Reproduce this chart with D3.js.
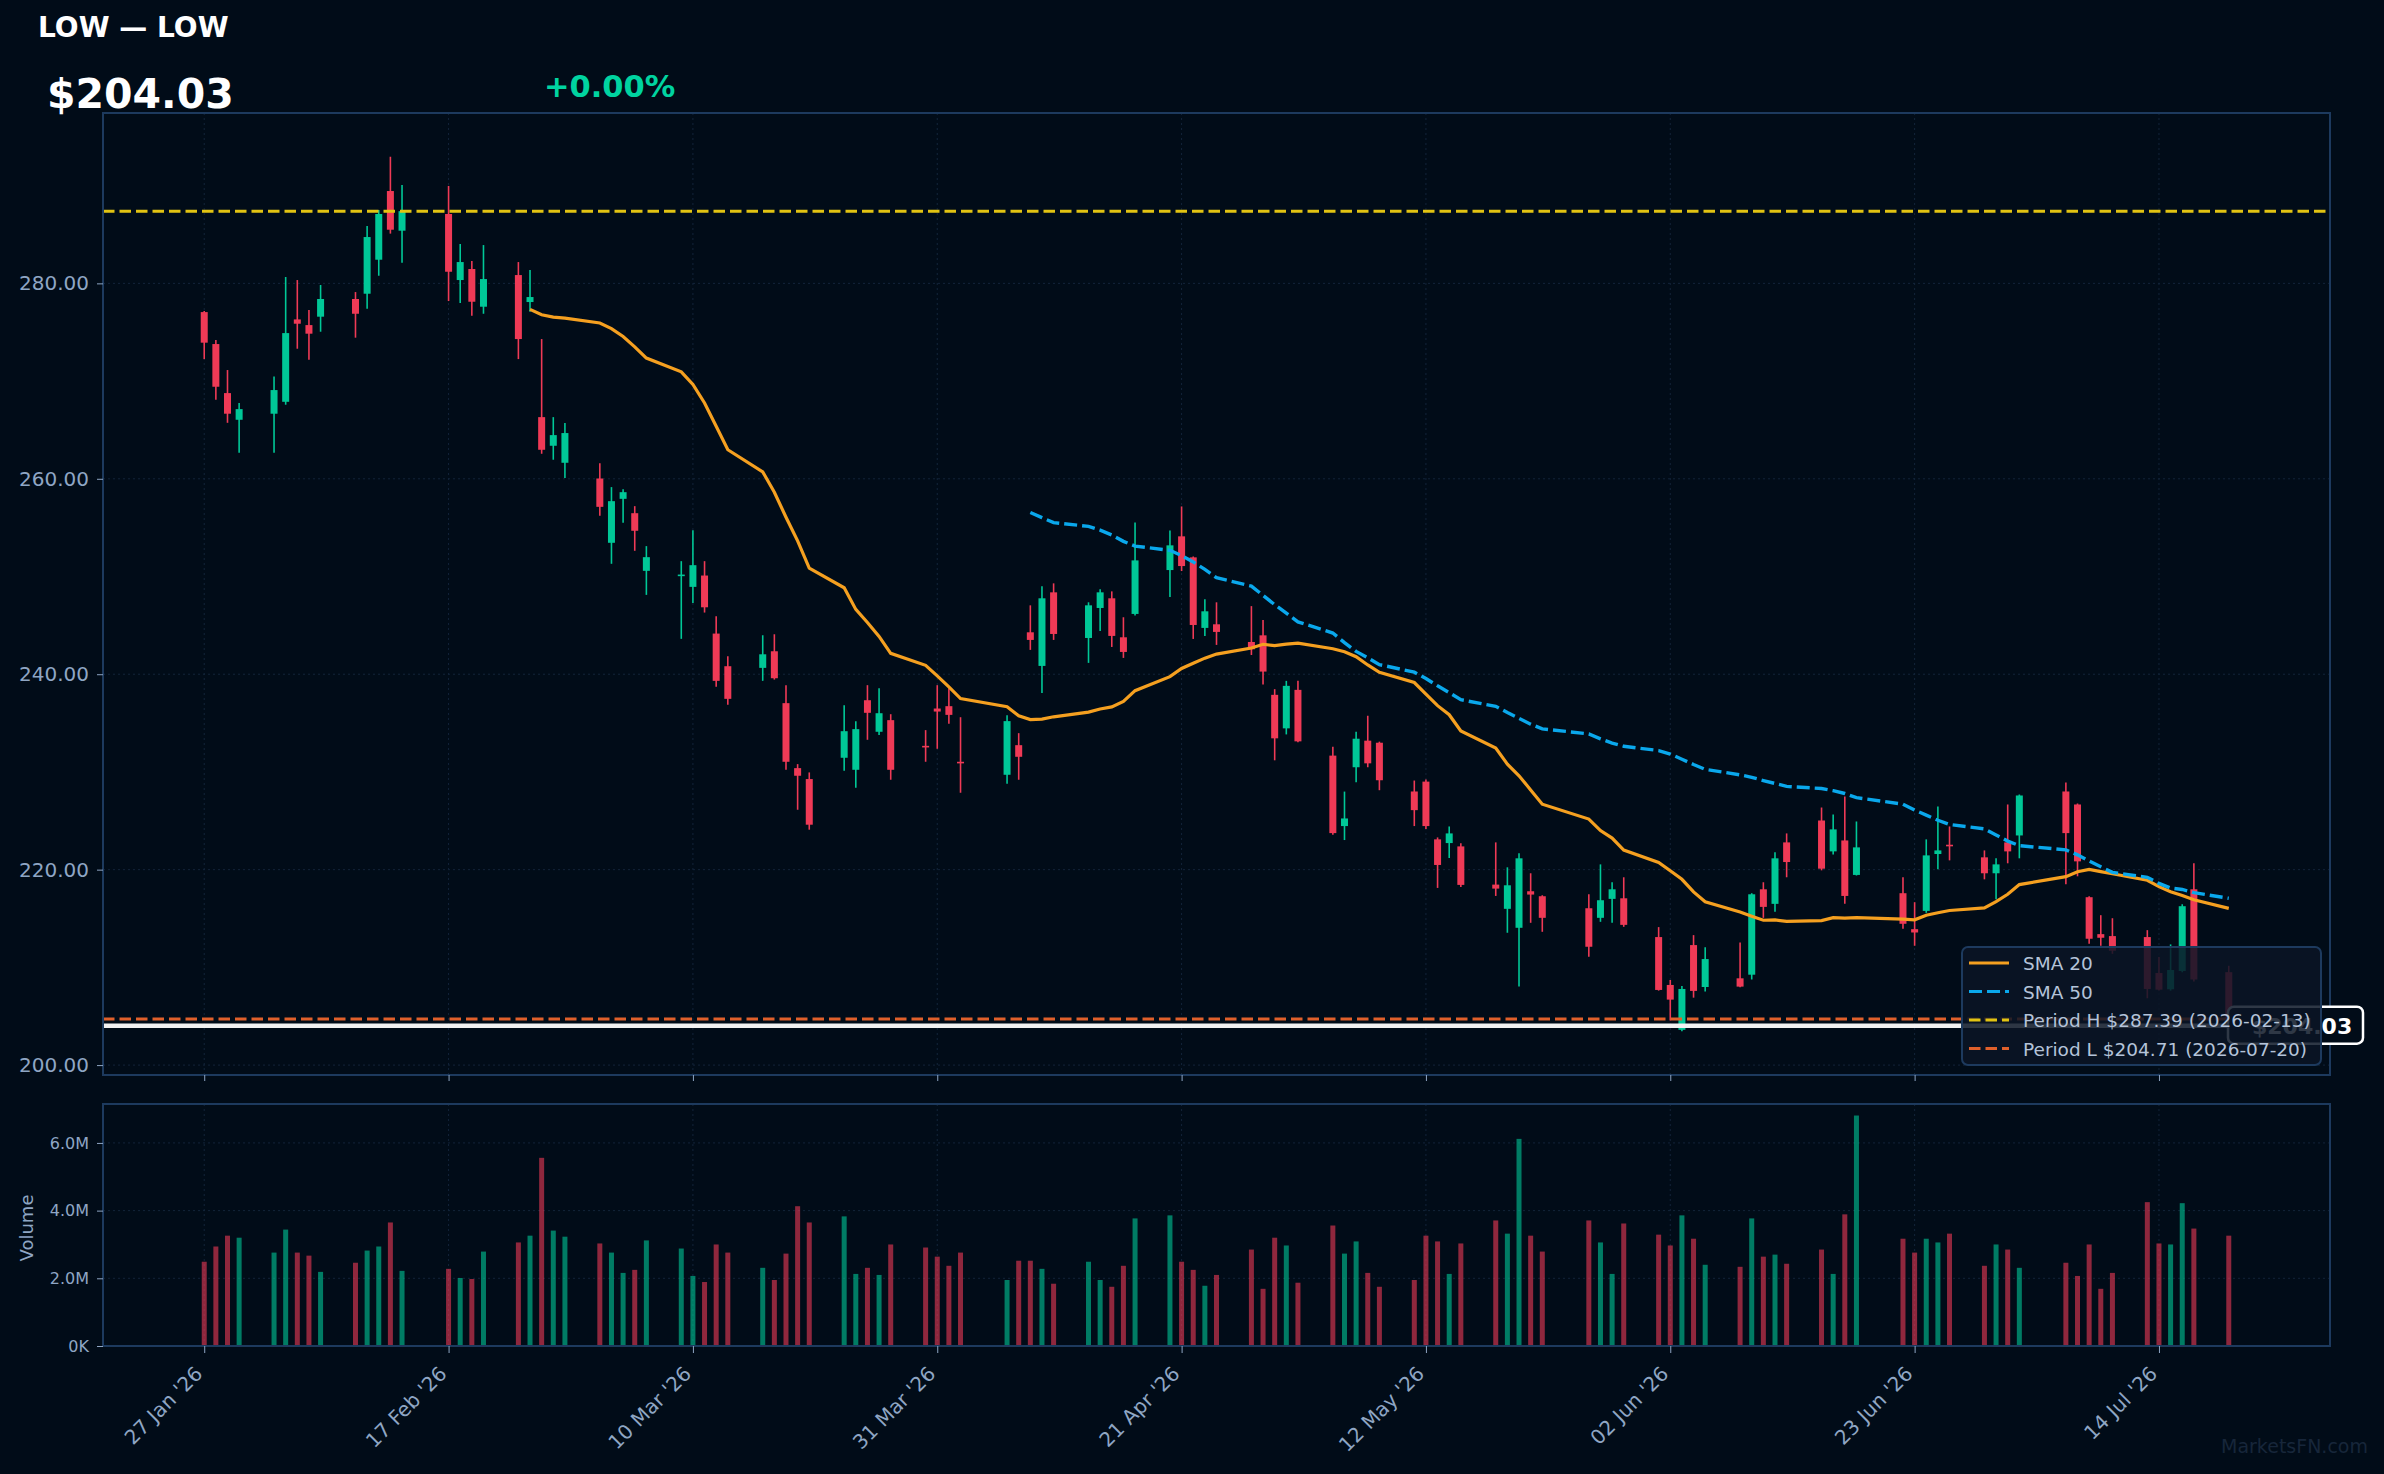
<!DOCTYPE html>
<html>
<head>
<meta charset="utf-8">
<script src="https://cdn.jsdelivr.net/npm/d3@7"></script>
<style>
	body { margin: 0; background: #010c18; }
	svg { display: block; font-family: "DejaVu Sans", sans-serif; }
</style>
</head>
<body>
<div id="chart-area"></div>
<script>

// daily candles
let dates = [
	"2026-01-27","2026-01-28","2026-01-29","2026-01-30",
	"2026-02-02","2026-02-03","2026-02-04","2026-02-05","2026-02-06",
	"2026-02-09","2026-02-10","2026-02-11","2026-02-12","2026-02-13",
	"2026-02-17","2026-02-18","2026-02-19","2026-02-20",
	"2026-02-23","2026-02-24","2026-02-25","2026-02-26","2026-02-27",
	"2026-03-02","2026-03-03","2026-03-04","2026-03-05","2026-03-06",
	"2026-03-09","2026-03-10","2026-03-11","2026-03-12","2026-03-13",
	"2026-03-16","2026-03-17","2026-03-18","2026-03-19","2026-03-20",
	"2026-03-23","2026-03-24","2026-03-25","2026-03-26","2026-03-27",
	"2026-03-30","2026-03-31","2026-04-01","2026-04-02",
	"2026-04-06","2026-04-07","2026-04-08","2026-04-09","2026-04-10",
	"2026-04-13","2026-04-14","2026-04-15","2026-04-16","2026-04-17",
	"2026-04-20","2026-04-21","2026-04-22","2026-04-23","2026-04-24",
	"2026-04-27","2026-04-28","2026-04-29","2026-04-30","2026-05-01",
	"2026-05-04","2026-05-05","2026-05-06","2026-05-07","2026-05-08",
	"2026-05-11","2026-05-12","2026-05-13","2026-05-14","2026-05-15",
	"2026-05-18","2026-05-19","2026-05-20","2026-05-21","2026-05-22",
	"2026-05-26","2026-05-27","2026-05-28","2026-05-29",
	"2026-06-01","2026-06-02","2026-06-03","2026-06-04","2026-06-05",
	"2026-06-08","2026-06-09","2026-06-10","2026-06-11","2026-06-12",
	"2026-06-15","2026-06-16","2026-06-17","2026-06-18",
	"2026-06-22","2026-06-23","2026-06-24","2026-06-25","2026-06-26",
	"2026-06-29","2026-06-30","2026-07-01","2026-07-02",
	"2026-07-06","2026-07-07","2026-07-08","2026-07-09","2026-07-10",
	"2026-07-13","2026-07-14","2026-07-15","2026-07-16","2026-07-17",
	"2026-07-20"
];

let opens = [
	277.06,273.79,268.77,266.04, 266.66,267.88,276.31,275.73,276.59,
	278.40,278.94,282.42,289.45,285.39, 287.10,280.34,281.47,277.61,
	280.85,278.09,266.31,263.38,261.64, 260.03,253.45,257.95,256.48,250.58,
	250.10,248.94,250.10,244.16,240.82, 240.65,242.35,237.04,230.39,229.27,
	231.45,230.22,237.34,234.11,235.30, 232.67,236.49,236.73,231.04,
	229.71,232.74,244.29,240.85,248.38, 243.71,246.78,247.77,243.78,246.17,
	250.66,254.11,251.96,244.74,245.11, 243.30,243.98,237.89,234.46,238.40,
	231.67,224.46,230.48,233.20,232.99, 228.00,229.01,223.10,222.72,222.38,
	218.47,215.99,214.05,217.79,217.28, 216.05,215.07,217.01,217.07,
	213.10,208.20,203.61,212.28,207.99, 208.88,209.25,217.99,216.50,222.79,
	225.03,221.87,222.99,219.46, 217.59,213.91,215.78,221.60,222.55,
	221.26,219.63,222.79,223.50, 228.00,226.67,217.18,213.40,213.20,
	213.10,209.42,207.76,209.63,217.99, 209.51
];

let highs = [
	277.17,274.20,271.13,267.75, 270.48,280.65,280.34,277.27,279.83,
	279.11,285.87,287.51,292.96,290.07, 289.97,284.03,282.29,283.92,
	282.18,281.37,274.30,266.31,265.70, 261.60,259.15,258.94,257.20,253.11,
	251.57,254.74,251.57,245.93,241.84, 243.99,244.09,238.88,230.80,229.95,
	236.83,235.20,238.88,238.57,235.91, 234.28,238.88,238.57,235.60,
	235.81,233.97,247.05,249.00,249.30, 247.36,248.69,248.48,245.83,255.54,
	254.72,257.17,252.05,247.67,247.36, 246.97,245.54,238.47,239.32,239.32,
	232.59,227.99,234.12,235.75,233.10, 229.12,229.22,223.30,224.42,222.69,
	222.79,220.24,221.67,219.63,217.38, 217.48,220.54,218.71,219.22,
	214.12,208.71,208.10,213.30,212.07, 212.55,217.59,218.71,221.77,223.71,
	226.36,225.65,227.48,224.93, 219.22,216.67,223.10,226.46,224.42,
	221.97,221.16,226.67,227.69, 228.91,226.77,217.28,215.34,215.03,
	213.81,211.05,212.35,216.46,220.65, 210.16
];

let lows = [
	272.25,268.09,265.73,262.66, 262.66,267.58,273.31,272.18,275.05,
	274.44,277.41,280.78,285.09,282.12, 278.19,277.99,276.69,276.89,
	272.25,277.10,262.56,261.95,260.07, 256.21,251.30,255.49,252.63,248.12,
	243.62,247.30,246.31,238.71,236.87, 239.32,239.45,230.22,226.13,224.09,
	230.12,228.38,233.29,233.77,229.20, 231.04,232.37,234.92,227.87,
	228.79,229.20,242.49,238.09,243.51, 241.16,244.43,242.79,241.67,246.00,
	247.90,250.56,243.61,243.92,243.00, 241.97,238.95,231.19,233.84,233.03,
	223.57,223.03,228.95,230.48,228.13, 224.46,224.15,218.13,221.19,218.23,
	217.31,213.54,208.03,214.56,213.64, 211.09,214.66,214.56,214.15,
	207.62,204.56,203.46,206.90,207.52, 207.96,208.76,215.07,215.68,219.22,
	219.93,221.56,216.50,219.40, 213.95,212.21,215.58,220.03,220.95,
	219.01,216.97,220.65,221.16, 218.50,219.32,212.41,212.21,211.39,
	206.84,207.62,207.62,209.50,208.56, 204.30
];

let closes = [
	273.93,269.42,266.66,267.13, 269.08,274.91,275.87,274.85,278.40,
	276.89,284.74,287.10,285.49,287.39, 281.19,282.18,278.12,280.44,
	274.30,278.60,262.97,264.47,264.68, 257.13,257.71,258.63,254.68,251.98,
	250.20,251.16,246.85,239.32,237.48, 242.04,239.59,231.04,229.61,224.60,
	234.17,234.38,236.05,236.01,230.22, 232.54,236.18,235.84,230.97,
	235.20,231.55,243.51,247.77,244.12, 247.05,248.38,243.92,242.28,251.65,
	253.19,251.07,245.04,246.44,244.33, 242.55,240.27,233.44,238.81,233.13,
	223.74,225.24,233.40,230.88,229.15, 226.09,224.46,220.48,223.71,218.44,
	218.06,218.40,221.16,217.45,215.07, 212.11,216.87,217.99,214.35,
	207.69,206.70,207.79,207.59,210.85, 208.03,217.48,216.19,221.16,220.78,
	220.10,224.12,217.31,222.28, 214.46,213.57,221.46,221.97,222.50,
	219.63,220.54,221.87,227.59, 223.74,220.85,212.93,213.03,211.70,
	207.79,207.72,209.73,216.26,208.76, 204.71
];

// volume in millions
let volumes = [
	2.49,2.94,3.26,3.20, 2.76,3.44,2.76,2.67,2.19,
	2.46,2.82,2.94,3.65,2.22, 2.28,2.01,1.98,2.79,
	3.06,3.26,5.56,3.41,3.23, 3.03,2.76,2.16,2.25,3.12,
	2.88,2.07,1.89,3.00,2.76, 2.31,1.95,2.73,4.13,3.65,
	3.83,2.13,2.31,2.10,3.00, 2.91,2.64,2.37,2.76,
	1.95,2.52,2.52,2.28,1.84, 2.49,1.95,1.75,2.37,3.77,
	3.86,2.49,2.25,1.78,2.10, 2.85,1.69,3.20,2.97,1.87,
	3.56,2.73,3.09,2.16,1.75, 1.95,3.26,3.09,2.13,3.03,
	3.71,3.32,6.12,3.26,2.79, 3.71,3.06,2.13,3.62,
	3.29,2.97,3.86,3.17,2.40, 2.34,3.77,2.64,2.70,2.43,
	2.85,2.13,3.89,6.81, 3.17,2.76,3.17,3.06,3.32,
	2.37,3.00,2.85,2.31, 2.46,2.07,3.00,1.69,2.16,
	4.25,3.03,3.00,4.22,3.47, 3.26
];

let tickDates = ["2026-01-27","2026-02-17","2026-03-10","2026-03-31","2026-04-21",
	"2026-05-12","2026-06-02","2026-06-23","2026-07-14"];
let priceTicks = [200, 220, 240, 260, 280];
let volumeTicks = [0, 2, 4, 6];

let periodHigh = 287.39, periodHighDate = "2026-02-13";
let periodLow = 204.71, periodLowDate = "2026-07-20";
let lastPrice = 204.03;
let changePct = 0.00;
let ticker = "LOW";

// colours
let bg = "#010c18", border = "#1d3a5e", gridCol = "#13243a", axisText = "#8fa6c4";
let upCol = "#00c897", downCol = "#ef3a56";
let sma20Col = "#f5a020", sma50Col = "#0aa8ec", hiCol = "#e2c312", loCol = "#e0602b";

let width = 2384, height = 1474;
let pricePanel = {left: 103, right: 2330, top: 113, bottom: 1075};
let volPanel = {left: 103, right: 2330, top: 1104, bottom: 1346};

let parseDate = d3.timeParse("%Y-%m-%d");
let formatTick = d3.timeFormat("%d %b '%y");

let data = dates.map((d, i) => ({
	date: parseDate(d), open: opens[i], high: highs[i], low: lows[i], close: closes[i], volume: volumes[i]
}));

function sma(n) {
	return data.map((d, i) => i < n - 1 ? null : {date: d.date, value: d3.mean(closes.slice(i - n + 1, i + 1))});
}
let sma20 = sma(20), sma50 = sma(50);

let svg = d3.select("#chart-area").append("svg")
	.attr("width", width)
	.attr("height", height);

svg.append("rect").attr("width", width).attr("height", height).attr("fill", bg);

// scales
let t0 = data[0].date, t1 = data[data.length - 1].date;
let pad = (t1 - t0) * 0.05;
let x = d3.scaleTime()
	.domain([new Date(+t0 - pad), new Date(+t1 + pad)])
	.range([pricePanel.left, pricePanel.right]);

let lo = d3.min(lows), hi = d3.max(highs);
let y = d3.scaleLinear()
	.domain([lo - (hi - lo) * 0.05, hi + (hi - lo) * 0.05])
	.range([pricePanel.bottom, pricePanel.top]);

let yv = d3.scaleLinear()
	.domain([0, d3.max(volumes) * 1.05])
	.range([volPanel.bottom, volPanel.top]);

let ticks = tickDates.map(parseDate);

// grids
let grid = svg.append("g").attr("stroke", gridCol).attr("stroke-width", 1).attr("stroke-dasharray", "2,3");
[pricePanel, volPanel].forEach(p => {
	grid.selectAll(null).data(ticks).enter().append("line")
		.attr("x1", d => x(d)).attr("x2", d => x(d))
		.attr("y1", p.top).attr("y2", p.bottom);
});
grid.selectAll(null).data(priceTicks).enter().append("line")
	.attr("x1", pricePanel.left).attr("x2", pricePanel.right)
	.attr("y1", d => y(d)).attr("y2", d => y(d));
grid.selectAll(null).data(volumeTicks.slice(1)).enter().append("line")
	.attr("x1", volPanel.left).attr("x2", volPanel.right)
	.attr("y1", d => yv(d)).attr("y2", d => yv(d));

// volume bars
svg.append("g").selectAll("rect")
	.data(data)
	.enter().append("rect")
	.attr("x", d => x(d.date) - 2.5)
	.attr("width", 5)
	.attr("y", d => yv(d.volume))
	.attr("height", d => yv(0) - yv(d.volume))
	.attr("fill", d => d.close >= d.open ? upCol : downCol)
	.attr("fill-opacity", 0.6);

// candles
let candles = svg.append("g");
candles.selectAll("line")
	.data(data)
	.enter().append("line")
	.attr("x1", d => x(d.date)).attr("x2", d => x(d.date))
	.attr("y1", d => y(d.high)).attr("y2", d => y(d.low))
	.attr("stroke", d => d.close >= d.open ? upCol : downCol)
	.attr("stroke-width", 1.6);
candles.selectAll("rect")
	.data(data)
	.enter().append("rect")
	.attr("x", d => x(d.date) - 3.5)
	.attr("width", 7)
	.attr("y", d => y(Math.max(d.open, d.close)))
	.attr("height", d => Math.max(1.6, Math.abs(y(d.open) - y(d.close))))
	.attr("fill", d => d.close >= d.open ? upCol : downCol);

// reference lines
svg.append("line")
	.attr("x1", pricePanel.left).attr("x2", pricePanel.right)
	.attr("y1", y(periodHigh)).attr("y2", y(periodHigh))
	.attr("stroke", hiCol).attr("stroke-width", 3).attr("stroke-dasharray", "11.5,5");
svg.append("line")
	.attr("x1", pricePanel.left).attr("x2", pricePanel.right)
	.attr("y1", y(periodLow)).attr("y2", y(periodLow))
	.attr("stroke", loCol).attr("stroke-width", 3).attr("stroke-dasharray", "11.5,5");
svg.append("line")
	.attr("x1", pricePanel.left).attr("x2", 2228)
	.attr("y1", y(lastPrice)).attr("y2", y(lastPrice))
	.attr("stroke", "#f2f2f2").attr("stroke-width", 4.5);

// moving averages
const line = d3.line()
	.defined(d => d != null)
	.x(d => x(d.date))
	.y(d => y(d.value));

svg.append("path").datum(sma20).attr("d", line)
	.attr("fill", "none").attr("stroke", sma20Col).attr("stroke-width", 3.2);
svg.append("path").datum(sma50).attr("d", line)
	.attr("fill", "none").attr("stroke", sma50Col).attr("stroke-width", 3.4)
	.attr("stroke-dasharray", "13,5");

// panel frames
[pricePanel, volPanel].forEach(p => {
	svg.append("rect")
		.attr("x", p.left).attr("y", p.top)
		.attr("width", p.right - p.left).attr("height", p.bottom - p.top)
		.attr("fill", "none").attr("stroke", border).attr("stroke-width", 2);
});

// axes
let yAxis = d3.axisLeft(y).tickValues(priceTicks).tickFormat(d3.format(".2f")).tickSize(6).tickPadding(8);
let yAxisGroup = svg.append("g").attr("transform", "translate(" + pricePanel.left + ",0)").call(yAxis);
yAxisGroup.selectAll("text").attr("font-size", 20).attr("fill", axisText).attr("font-family", "DejaVu Sans");

let vAxis = d3.axisLeft(yv).tickValues(volumeTicks)
	.tickFormat(d => d === 0 ? "0K" : d.toFixed(1) + "M").tickSize(6).tickPadding(8);
let vAxisGroup = svg.append("g").attr("transform", "translate(" + volPanel.left + ",0)").call(vAxis);
vAxisGroup.selectAll("text").attr("font-size", 16).attr("fill", axisText).attr("font-family", "DejaVu Sans");

let xTop = svg.append("g").attr("transform", "translate(0," + pricePanel.bottom + ")")
	.call(d3.axisBottom(x).tickValues(ticks).tickSize(6).tickFormat(""));

let xAxisGroup = svg.append("g").attr("transform", "translate(0," + volPanel.bottom + ")")
	.call(d3.axisBottom(x).tickValues(ticks).tickSize(7).tickFormat(formatTick));
xAxisGroup.selectAll("text")
	.attr("font-size", 20).attr("fill", axisText).attr("font-family", "DejaVu Sans")
	.attr("text-anchor", "end")
	.attr("y", 0).attr("dy", 0)
	.attr("transform", "translate(-1,29) rotate(-45)");

[yAxisGroup, vAxisGroup, xTop, xAxisGroup].forEach(g => {
	g.select(".domain").remove();
	g.selectAll(".tick line").attr("stroke", axisText);
});

svg.append("text")
	.attr("transform", "translate(33,1228) rotate(-90)")
	.attr("text-anchor", "middle")
	.attr("font-size", 18).attr("fill", axisText)
	.text("Volume");

// header
svg.append("text").attr("x", 38).attr("y", 37)
	.attr("font-size", 28).attr("font-weight", "bold").attr("fill", "#ffffff")
	.text(ticker + " \u2014 " + ticker);
svg.append("text").attr("x", 47).attr("y", 108)
	.attr("font-size", 41).attr("font-weight", "bold").attr("fill", "#ffffff")
	.text("$" + lastPrice.toFixed(2));
svg.append("text").attr("x", 544).attr("y", 97)
	.attr("font-size", 30.5).attr("font-weight", "bold").attr("fill", "#00d4a0")
	.text((changePct >= 0 ? "+" : "") + changePct.toFixed(2) + "%");

// last price tag
svg.append("rect")
	.attr("x", 2228).attr("y", y(lastPrice) - 19)
	.attr("width", 135).attr("height", 37).attr("rx", 6)
	.attr("fill", bg).attr("stroke", "#ffffff").attr("stroke-width", 2.5);
svg.append("text")
	.attr("x", 2252).attr("y", y(lastPrice) + 8)
	.attr("font-size", 22).attr("font-weight", "bold").attr("fill", "#ffffff")
	.text("$" + lastPrice.toFixed(2));

// legend
let legend = svg.append("g").attr("transform", "translate(1962,947)");
legend.append("rect")
	.attr("width", 359).attr("height", 118).attr("rx", 6)
	.attr("fill", "#0a1526").attr("fill-opacity", 0.85)
	.attr("stroke", border).attr("stroke-width", 2);
let legendItems = [
	{label: "SMA 20", color: sma20Col, dash: null},
	{label: "SMA 50", color: sma50Col, dash: "13,5"},
	{label: "Period H $" + periodHigh.toFixed(2) + " (" + periodHighDate + ")", color: hiCol, dash: "11.5,5"},
	{label: "Period L $" + periodLow.toFixed(2) + " (" + periodLowDate + ")", color: loCol, dash: "11.5,5"}
];
let li = legend.selectAll("g.item").data(legendItems).enter().append("g")
	.attr("class", "item")
	.attr("transform", (d, i) => "translate(0," + (16 + i * 28.5) + ")");
li.append("line")
	.attr("x1", 7).attr("x2", 47)
	.attr("stroke", d => d.color).attr("stroke-width", 3.2)
	.attr("stroke-dasharray", d => d.dash);
li.append("text")
	.attr("x", 61).attr("y", 7)
	.attr("font-size", 18.5).attr("fill", "#b4c3d9")
	.text(d => d.label);

// watermark
svg.append("text").attr("x", 2368).attr("y", 1453)
	.attr("text-anchor", "end").attr("font-size", 19).attr("fill", "#17263a")
	.text("MarketsFN.com");

</script>
</body>
</html>
